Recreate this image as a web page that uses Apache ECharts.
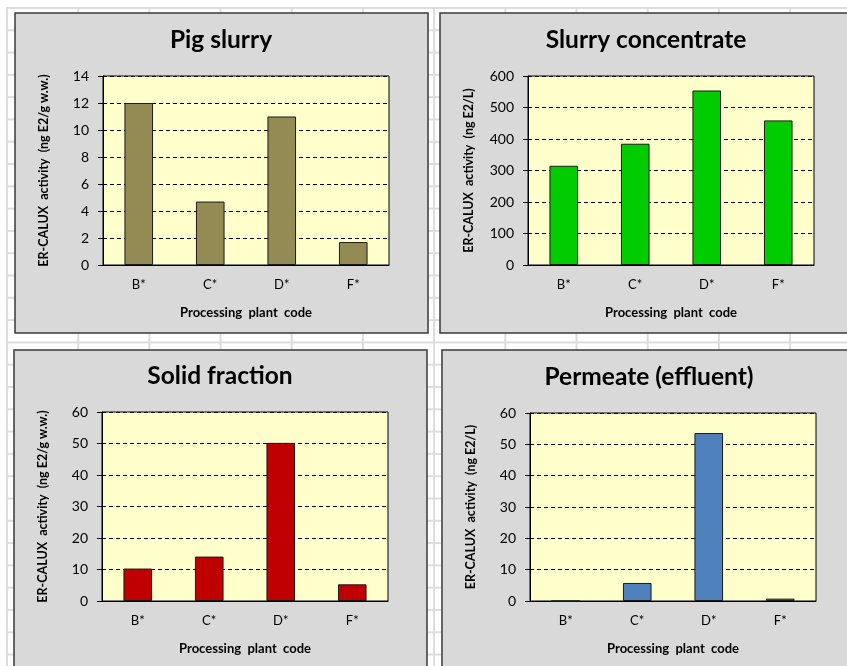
<!DOCTYPE html>
<html>
<head>
<meta charset="utf-8">
<script src="https://cdn.jsdelivr.net/npm/echarts@6/dist/echarts.min.js"></script>
<style>
  html, body { margin: 0; padding: 0; background: #fff; }
  #sheet {
    position: absolute; left: 6px; top: 7px; width: 841px; height: 659px;
    background-image:
      linear-gradient(to right, #dcdcdc 2px, transparent 2px),
      linear-gradient(to bottom, #dcdcdc 2px, transparent 2px);
    background-size: 71.2px 100%, 100% 22.3px;
  }
  #chart { position: absolute; left: 0; top: 0; width: 847px; height: 666px; }
</style>
</head>
<body>
<div id="sheet"></div>
<div id="chart"></div>
<script>
// Processing plants
const categories = ['B*', 'C*', 'D*', 'F*'];

// ER-CALUX activity per fraction
const pigSlurry = [12.0, 4.7, 11.0, 1.7];              // ng E2/g w.w.
const slurryConcentrate = [315, 385, 554, 459];        // ng E2/L
const solidFraction = [10.3, 14.1, 50.2, 5.3];         // ng E2/g w.w.
const permeate = [0, 5.75, 53.6, 0.75];                // ng E2/L

const titles = ['Pig slurry', 'Slurry concentrate', 'Solid fraction', 'Permeate (effluent)'];
const yNames = [
  'ER-CALUX  activity  (ng E2/g w.w.)',
  'ER-CALUX  activity  (ng E2/L)',
  'ER-CALUX  activity  (ng E2/g w.w.)',
  'ER-CALUX  activity  (ng E2/L)'
];
const xName = 'Processing  plant  code';

const yMax = [14, 600, 60, 60];
const yStep = [2, 100, 10, 10];
const seriesData = [pigSlurry, slurryConcentrate, solidFraction, permeate];
const barColors = ['#948a54', '#00cc00', '#c00000', '#4f81bd'];

// layout of the four chart panels
const panels = [
  { x: 15, y: 13, w: 413, h: 320 },
  { x: 440, y: 13, w: 420, h: 320 },
  { x: 14, y: 350, w: 413, h: 330 },
  { x: 442, y: 350, w: 420, h: 330 }
];
const plots = [
  { left: 103, top: 76, right: 389, bottom: 265 },
  { left: 528, top: 76, right: 814, bottom: 265 },
  { left: 102, top: 412, right: 388, bottom: 601 },
  { left: 530, top: 413, right: 816, bottom: 601 }
];
const titlePos = [
  { x: 221, y: 43 }, { x: 646, y: 43 }, { x: 220, y: 379 }, { x: 649, y: 380 }
];

const FONT = 'Lato, "Open Sans", sans-serif';

const option = {
  animation: false,
  title: titles.map((t, i) => ({
    text: t,
    left: titlePos[i].x,
    top: titlePos[i].y - 15,
    textAlign: 'center',
    padding: 0,
    textStyle: { fontFamily: FONT, fontSize: 24.5, fontWeight: 'bold', color: '#000' }
  })),
  graphic: panels.map(p => ({
    type: 'rect',
    z: -10,
    silent: true,
    shape: { x: p.x, y: p.y, width: p.w, height: p.h },
    style: { fill: '#d9d9d9', stroke: '#3a3a3a', lineWidth: 1.5 }
  })),
  grid: plots.map(g => ({
    left: g.left,
    top: g.top,
    width: g.right - g.left,
    height: g.bottom - g.top,
    show: true,
    backgroundColor: '#ffffcc',
    borderColor: '#000',
    borderWidth: 1
  })),
  xAxis: plots.map((g, i) => ({
    type: 'category',
    gridIndex: i,
    data: categories,
    name: xName,
    nameLocation: 'middle',
    nameGap: 41,
    nameTextStyle: { fontFamily: FONT, fontSize: 13, fontWeight: 'bold', color: '#000' },
    axisLine: { lineStyle: { color: '#000', width: 1 } },
    axisTick: { length: 4, lineStyle: { color: '#000' } },
    axisLabel: { margin: 13, fontFamily: FONT, fontSize: 13, color: '#000' }
  })),
  yAxis: plots.map((g, i) => ({
    type: 'value',
    gridIndex: i,
    min: 0,
    max: yMax[i],
    interval: yStep[i],
    name: yNames[i],
    nameLocation: 'middle',
    nameRotate: 90,
    nameGap: 53,
    nameTextStyle: { fontFamily: FONT, fontSize: 12.5, fontWeight: 'bold', color: '#000' },
    axisLine: { show: true, lineStyle: { color: '#000', width: 1 } },
    axisTick: { show: true, length: 5, lineStyle: { color: '#000' } },
    axisLabel: { margin: 14, fontFamily: FONT, fontSize: 14, color: '#000' },
    splitLine: { show: true, lineStyle: { color: '#000', width: 1, type: [4, 3] } }
  })),
  series: seriesData.map((d, i) => ({
    type: 'bar',
    xAxisIndex: i,
    yAxisIndex: i,
    data: d,
    barCategoryGap: '60%',
    itemStyle: { color: barColors[i], borderColor: '#1a1a1a', borderWidth: 1 }
  }))
};

const chart = echarts.init(document.getElementById('chart'), null, { renderer: 'canvas' });
chart.setOption(option);
</script>
</body>
</html>
